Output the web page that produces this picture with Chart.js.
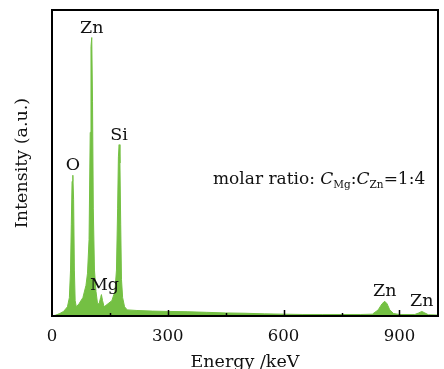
<!DOCTYPE html>
<html>
<head>
<meta charset="utf-8">
<script src="https://cdn.jsdelivr.net/npm/chart.js@4.4.0/dist/chart.umd.min.js"></script>
<style>
  html, body { margin: 0; padding: 0; background: #fff; }
  #wrap { width: 444px; height: 369px; }
</style>
</head>
<body>
<div id="wrap"><canvas id="chartEds" width="444" height="369"></canvas></div>
<script>
// Espectre EDS (llegit a ull de la figura)
const energia = [0, 10, 20, 30, 40, 45, 48, 50, 52, 54, 56, 58, 60, 63, 70, 80, 88, 92, 96, 99, 101, 103, 105, 107, 110, 114, 118, 122, 126, 128, 131, 135, 145, 155, 163, 167, 170, 172, 174, 176, 178, 180, 183, 188, 195, 220, 260, 300, 350, 400, 450, 500, 550, 600, 650, 700, 750, 800, 830, 845, 855, 862, 868, 875, 885, 900, 940, 950, 958, 966, 975, 1000];
const intensitat = [0, 0.3, 0.8, 1.5, 3, 6, 15, 30, 44, 46, 38, 15, 5, 3, 4, 6, 10, 14, 25, 60, 88, 91, 70, 35, 15, 8, 4, 4, 6, 7, 5, 3, 4, 5, 8, 15, 35, 52, 56, 50, 30, 12, 6, 3, 2, 1.8, 1.6, 1.5, 1.4, 1.2, 1.0, 0.9, 0.7, 0.6, 0.5, 0.5, 0.5, 0.5, 0.6, 2, 4, 4.8, 4, 2, 0.8, 0.5, 0.5, 1, 1.5, 1, 0.4, 0.3];

const xTicks = [0, 300, 600, 900];
const xMarques = [150, 300, 450, 600, 750, 900];

// Etiquetes dels pics
const picsNom = ['O', 'Zn', 'Si', 'Mg', 'Zn', 'Zn'];
const picsEnergia = [54, 103, 174, 136, 862, 958];
const picsIntensitat = [46, 91, 56, 7, 4.8, 1.5];

const serif = '"DejaVu Serif", "Liberation Serif", serif';
const verd = '#74c043';

const punts = energia.map((e, i) => ({ x: e, y: intensitat[i] }));

// Marc, marques interiors i textos
const extres = {
    id: 'extres',
    afterDatasetsDraw(chart) {
        const { ctx, chartArea: a, scales: { x, y } } = chart;
        ctx.save();
        ctx.strokeStyle = '#000';
        ctx.lineWidth = 2;
        ctx.strokeRect(a.left, a.top, a.right - a.left, a.bottom - a.top);

        ctx.lineWidth = 1.5;
        xMarques.forEach(v => {
            const px = Math.round(x.getPixelForValue(v)) + 0.5;
            const len = (v % 300 === 0) ? 6 : 3;
            ctx.beginPath();
            ctx.moveTo(px, a.bottom);
            ctx.lineTo(px, a.bottom - len);
            ctx.stroke();
        });

        ctx.fillStyle = '#111';
        ctx.font = '17.5px ' + serif;
        ctx.textAlign = 'center';
        ctx.textBaseline = 'alphabetic';
        picsNom.forEach((nom, i) => {
            const px = x.getPixelForValue(picsEnergia[i]);
            const py = y.getPixelForValue(picsIntensitat[i]);
            ctx.fillText(nom, px, py - 5);
        });

        // molar ratio: C_Mg:C_Zn=1:4
        let cx = 213;
        const base = 184;
        ctx.textAlign = 'left';
        const trossos = [
            ['molar ratio: ', '17px ' + serif, 0],
            ['C', 'italic 17px ' + serif, 0],
            ['Mg', '10.5px ' + serif, 4],
            [':', '17px ' + serif, 0],
            ['C', 'italic 17px ' + serif, 0],
            ['Zn', '10.5px ' + serif, 4],
            ['=1:4', '17px ' + serif, 0]
        ];
        trossos.forEach(([t, f, dy]) => {
            ctx.font = f;
            ctx.fillText(t, cx, base + dy);
            cx += ctx.measureText(t).width;
        });
        ctx.restore();
    }
};

new Chart(document.getElementById('chartEds'), {
    type: 'line',
    data: {
        datasets: [{
            data: punts,
            borderColor: verd,
            backgroundColor: verd,
            borderWidth: 1,
            pointRadius: 0,
            fill: 'origin',
            tension: 0
        }]
    },
    options: {
        responsive: false,
        animation: false,
        layout: { padding: { top: 10, right: 6, left: 0, bottom: 0 } },
        plugins: { legend: { display: false }, tooltip: { enabled: false } },
        scales: {
            x: {
                type: 'linear',
                min: 0,
                max: 1000,
                afterBuildTicks: s => { s.ticks = xTicks.map(v => ({ value: v })); },
                afterFit: s => { s.height = 53; },
                grid: { display: false, drawTicks: false },
                border: { display: false },
                ticks: { color: '#111', padding: 11, font: { family: serif, size: 16.5 } },
                title: { display: true, text: 'Energy /keV', color: '#111', padding: { top: 0, bottom: -4 }, font: { family: serif, size: 17.5 } }
            },
            y: {
                min: 0,
                max: 100,
                afterFit: s => { s.width = 52; },
                grid: { display: false, drawTicks: false },
                border: { display: false },
                ticks: { display: false },
                title: { display: true, text: 'Intensity (a.u.)', color: '#111', padding: { top: 12, bottom: 0 }, font: { family: serif, size: 17.5 } }
            }
        }
    },
    plugins: [extres]
});
</script>
</body>
</html>
